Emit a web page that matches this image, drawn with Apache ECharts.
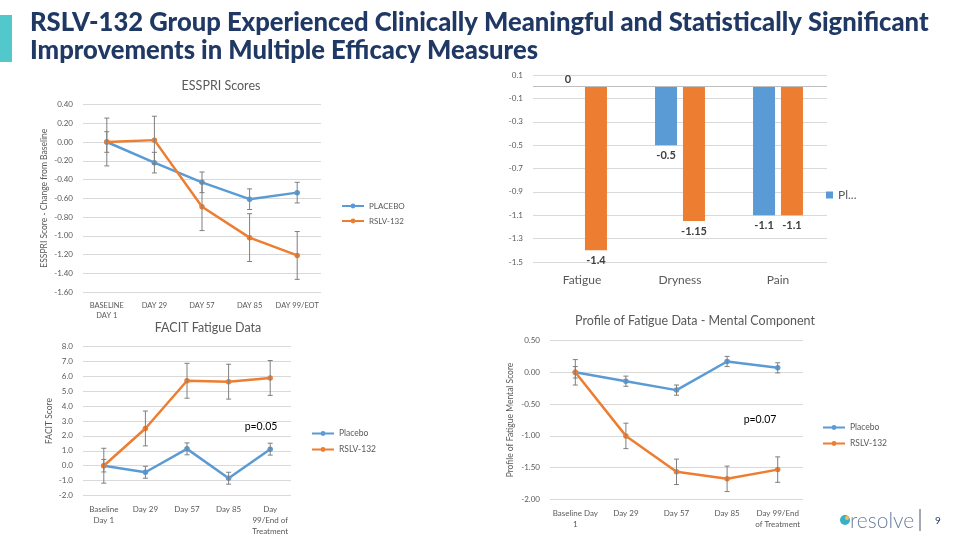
<!DOCTYPE html>
<html><head><meta charset="utf-8">
<script src="https://cdn.jsdelivr.net/npm/echarts@6/dist/echarts.min.js"></script>
<style>html,body{margin:0;padding:0;background:#fff}#c{width:962px;height:541px}</style>
</head><body><div id="c"></div>
<script>
// ---------- DATA ----------
const essCats = ['BASELINE\nDAY 1', 'DAY 29', 'DAY 57', 'DAY 85', 'DAY 99/EOT'];
const essPlacebo = [0, -0.22, -0.43, -0.61, -0.54];
const essPlaceboErr = [0.11, 0.11, 0.11, 0.11, 0.11];
const essRslv = [0, 0.02, -0.69, -1.02, -1.21];
const essRslvErr = [0.255, 0.255, 0.255, 0.255, 0.255];

const barCats = ['Fatigue', 'Dryness', 'Pain'];
const barPlacebo = [0, -0.5, -1.1];
const barRslv = [-1.4, -1.15, -1.1];

const facitCats = ['Baseline\nDay 1', 'Day 29', 'Day 57', 'Day 85', 'Day\n99/End of\nTreatment'];
const facitPlacebo = [0, -0.44, 1.13, -0.84, 1.11];
const facitPlaceboErr = [0.42, 0.4, 0.4, 0.4, 0.4];
const facitRslv = [0, 2.5, 5.7, 5.64, 5.89];
const facitRslvErr = [1.17, 1.17, 1.17, 1.17, 1.17];

const mentalCats = ['Baseline Day\n1', 'Day 29', 'Day 57', 'Day 85', 'Day 99/End\nof Treatment'];
const mentalPlacebo = [0, -0.14, -0.28, 0.17, 0.07];
const mentalPlaceboErr = [0.09, 0.08, 0.08, 0.08, 0.08];
const mentalRslv = [0, -1.0, -1.565, -1.675, -1.53];
const mentalRslvErr = [0.2, 0.2, 0.2, 0.2, 0.2];

const mainTitle1 = 'RSLV-132 Group Experienced Clinically Meaningful and Statistically Significant';
const mainTitle2 = 'Improvements in Multiple Efficacy Measures';

// ---------- STYLE ----------
const BLUE = '#5B9BD5', ORANGE = '#ED7D31', GRID = '#D9D9D9', TXT = '#595959';
const FONT = 'Lato, "Noto Sans", sans-serif';

// fit title font to reference width
const cv = document.createElement('canvas').getContext('2d');
cv.font = '900 100px Lato';
const tfs = Math.round(100 * 898 / cv.measureText(mainTitle1).width * 10) / 10;

const chart = echarts.init(document.getElementById('c'), null, {renderer: 'canvas'});

function errSeries(idx, vals, errs, name) {
  return {
    type: 'custom', name: name, xAxisIndex: idx, yAxisIndex: idx, z: 3, silent: true,
    data: vals.map((v, i) => [i, v, errs[i]]),
    encode: {x: 0, y: 1},
    renderItem: (params, api) => {
      const x = api.value(0), v = api.value(1), e = api.value(2);
      const hi = api.coord([x, v + e]), lo = api.coord([x, v - e]);
      const w = 2.5;
      const style = {stroke: '#7F7F7F', lineWidth: 1};
      return {type: 'group', children: [
        {type: 'line', shape: {x1: hi[0], y1: hi[1], x2: lo[0], y2: lo[1]}, style},
        {type: 'line', shape: {x1: hi[0] - w, y1: hi[1], x2: hi[0] + w, y2: hi[1]}, style},
        {type: 'line', shape: {x1: lo[0] - w, y1: lo[1], x2: lo[0] + w, y2: lo[1]}, style}
      ]};
    }
  };
}
function lineSeries(idx, name, vals, color) {
  return {
    type: 'line', name: name, xAxisIndex: idx, yAxisIndex: idx, data: vals, z: 2,
    symbol: 'circle', symbolSize: 5.5,
    lineStyle: {color: color, width: 2.5}, itemStyle: {color: color}
  };
}
function catAxis(idx, cats, size, margin) {
  return {
    type: 'category', gridIndex: idx, data: cats, boundaryGap: true,
    axisLine: {show: false}, axisTick: {show: false},
    axisLabel: {color: TXT, fontSize: size, fontFamily: FONT, margin: margin, interval: 0, lineHeight: size + 3}
  };
}
function valAxis(idx, min, max, interval, dec, name, gap) {
  return {
    type: 'value', gridIndex: idx, min: min, max: max, interval: interval,
    name: name, nameLocation: 'middle', nameGap: gap, nameRotate: 90,
    nameTextStyle: {color: TXT, fontSize: 8.5, fontFamily: FONT},
    axisLine: {show: false}, axisTick: {show: false},
    axisLabel: {color: TXT, fontSize: 8, fontFamily: FONT, margin: 10, formatter: v => v.toFixed(dec)},
    splitLine: {lineStyle: {color: GRID, width: 1}}
  };
}
function lineLegend(names, left, top, size) {
  return {
    data: names, orient: 'vertical', left: left, top: top, itemWidth: 22, itemHeight: 6, itemGap: 7,
    selectedMode: false, textStyle: {color: TXT, fontSize: size, fontFamily: FONT}
  };
}
const titleStyle = {color: TXT, fontSize: 12.5, fontWeight: 'normal', fontFamily: FONT};

const option = {
  backgroundColor: '#fff',
  animation: false,
  title: [
    {text: 'ESSPRI Scores', left: 216, top: 74, textAlign: 'center', textStyle: titleStyle},
    {text: 'FACIT Fatigue Data', left: 203, top: 316, textAlign: 'center', textStyle: titleStyle},
    {text: 'Profile of Fatigue Data - Mental Component', left: 690, top: 309, textAlign: 'center', textStyle: titleStyle}
  ],
  legend: [
    lineLegend(['PLACEBO', 'RSLV-132'], 336, 197, 8),
    {data: ['Placebo-bar'], left: 821, top: 184, itemWidth: 7, itemHeight: 7, icon: 'rect', selectedMode: false,
     formatter: () => 'Pl...', textStyle: {color: TXT, fontSize: 12, fontFamily: FONT}},
    lineLegend(['Placebo', 'RSLV-132'], 306, 424, 8.5),
    lineLegend(['Placebo ', 'RSLV-132 '], 817, 418, 8.5)
  ],
  grid: [
    {left: 83, top: 104.5, width: 238, height: 187.5},
    {left: 533, top: 75, width: 294, height: 187},
    {left: 83, top: 346.5, width: 208, height: 149},
    {left: 550, top: 340.5, width: 253, height: 159}
  ],
  xAxis: [
    catAxis(0, essCats, 7.5, 8),
    catAxis(1, barCats, 12, 11),
    catAxis(2, facitCats, 8, 8),
    catAxis(3, mentalCats, 8, 8)
  ],
  yAxis: [
    valAxis(0, -1.6, 0.4, 0.2, 2, 'ESSPRI Score - Change from Baseline', 34),
    valAxis(1, -1.5, 0.1, 0.2, 1, '', 0),
    valAxis(2, -2, 8, 1, 1, 'FACIT Score', 29),
    valAxis(3, -2, 0.5, 0.5, 2, 'Profile of Fatigue Mental Score', 35)
  ],
  series: [
    lineSeries(0, 'PLACEBO', essPlacebo, BLUE),
    lineSeries(0, 'RSLV-132', essRslv, ORANGE),
    errSeries(0, essPlacebo, essPlaceboErr, 'e1'),
    errSeries(0, essRslv, essRslvErr, 'e2'),
    {
      type: 'bar', name: 'Placebo-bar', xAxisIndex: 1, yAxisIndex: 1, barWidth: 22, barGap: '27%',
      itemStyle: {color: BLUE},
      data: barPlacebo.map(v => v === 0 ? {value: v, label: {position: 'top', distance: 2}} : v),
      label: {show: true, position: 'bottom', distance: 5, color: '#404040', fontWeight: 'bold', fontSize: 11, fontFamily: FONT},
      markLine: {silent: true, symbol: 'none', label: {show: false}, lineStyle: {color: '#BFBFBF', width: 1, type: 'solid'}, data: [{yAxis: 0}]}
    },
    {
      type: 'bar', name: 'RSLV-132-bar', xAxisIndex: 1, yAxisIndex: 1, barWidth: 22, barGap: '27%',
      itemStyle: {color: ORANGE}, data: barRslv,
      label: {show: true, position: 'bottom', distance: 5, color: '#404040', fontWeight: 'bold', fontSize: 11, fontFamily: FONT}
    },
    lineSeries(2, 'Placebo', facitPlacebo, BLUE),
    lineSeries(2, 'RSLV-132', facitRslv, ORANGE),
    errSeries(2, facitPlacebo, facitPlaceboErr, 'e3'),
    errSeries(2, facitRslv, facitRslvErr, 'e4'),
    lineSeries(3, 'Placebo ', mentalPlacebo, BLUE),
    lineSeries(3, 'RSLV-132 ', mentalRslv, ORANGE),
    errSeries(3, mentalPlacebo, mentalPlaceboErr, 'e5'),
    errSeries(3, mentalRslv, mentalRslvErr, 'e6')
  ],
  graphic: [
    {type: 'rect', shape: {x: 0, y: 15, width: 12, height: 47}, style: {fill: '#52C8CD'}},
    {type: 'text', x: 30, y: 23, style: {text: mainTitle1, font: `900 ${tfs}px Lato`, fill: '#1F3864', verticalAlign: 'middle'}},
    {type: 'text', x: 30, y: 51, style: {text: mainTitle2, font: `900 ${tfs}px Lato`, fill: '#1F3864', verticalAlign: 'middle'}},
    {type: 'text', x: 261, y: 427, style: {text: 'p=0.05', font: `10.5px ${FONT}`, fill: '#000', align: 'center', verticalAlign: 'middle'}},
    {type: 'text', x: 760, y: 420, style: {text: 'p=0.07', font: `10.5px ${FONT}`, fill: '#000', align: 'center', verticalAlign: 'middle'}},
    {type: 'circle', shape: {cx: 845, cy: 520, r: 5}, style: {fill: '#3AAFC6'}},
    {type: 'circle', shape: {cx: 847, cy: 518, r: 2}, style: {fill: '#F2C14E'}},
    {type: 'text', x: 850, y: 521, style: {text: 'resolve', font: `300 21px Lato`, fill: '#6B7F9E', verticalAlign: 'middle'}},
    {type: 'line', shape: {x1: 920, y1: 509, x2: 920, y2: 531}, style: {stroke: '#44546A', lineWidth: 1}},
    {type: 'text', x: 938, y: 521, style: {text: '9', font: `10px ${FONT}`, fill: '#1F3864', align: 'center', verticalAlign: 'middle'}}
  ]
};
chart.setOption(option);
</script>
</body></html>
